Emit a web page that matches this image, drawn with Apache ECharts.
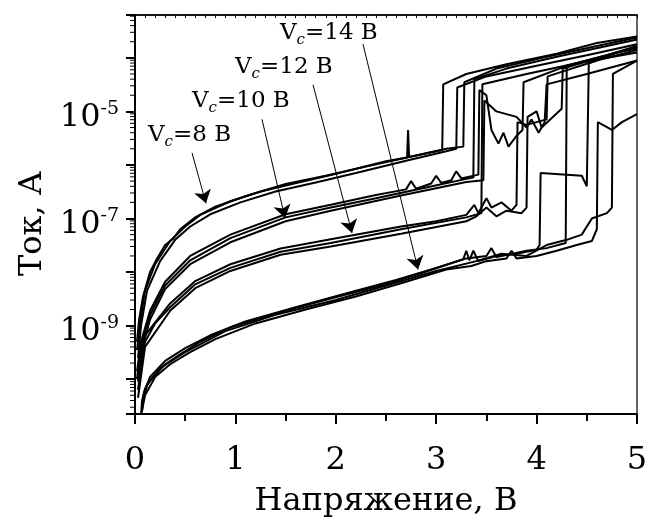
<!DOCTYPE html>
<html>
<head>
<meta charset="utf-8">
<script src="https://cdn.jsdelivr.net/npm/echarts@6/dist/echarts.min.js"></script>
<style>html,body{margin:0;padding:0;background:#fff}#c{width:652px;height:523px}</style>
</head>
<body>
<div id="c"></div>
<script>
// ---- axis settings ----
const xTickLabels = ['0', '1', '2', '3', '4', '5'];
const yLabelExponents = [-9, -7, -5];
const xName = 'Напряжение, В';
const yName = 'Ток, А';
const yMin = Math.pow(10, -10.65);
const yMax = Math.pow(10, -3.2);

// ---- curves: [voltage (V), current (A)] ----
// Vc = 8 V
const vc8a = [[0.02,3.5e-10],[0.05,1.1e-9],[0.1,4.5e-9],[0.2,1.4e-8],[0.35,3.8e-8],[0.5,7.1e-8],[0.65,1.17e-7],[0.95,2.1e-7],[1.25,3.2e-7],[1.65,4.8e-7],[1.95,6.5e-7],[2.5,1.17e-6],[2.71,1.38e-6],[2.72,4.5e-6],[2.73,1.41e-6],[3.0,1.8e-6],[3.06,1.9e-6],[3.07,3.2e-5],[3.3,5.0e-5],[3.7,7.6e-5],[4.2,1.2e-4],[4.6,1.9e-4],[5.0,2.5e-4]];
const vc8b = [[0.03,2.5e-10],[0.06,1.0e-9],[0.12,4.5e-9],[0.25,1.6e-8],[0.4,4.0e-8],[0.55,7.1e-8],[0.75,1.2e-7],[1.05,2.0e-7],[1.4,3.2e-7],[1.8,4.7e-7],[2.2,7.1e-7],[2.7,1.2e-6],[3.1,1.8e-6],[3.2,2.0e-6],[3.21,2.8e-5],[3.5,4.5e-5],[4.0,7.1e-5],[4.5,1.12e-4],[5.0,1.8e-4]];
const vc8c = [[0.02,5.0e-10],[0.04,1.26e-9],[0.08,3.5e-9],[0.15,1.0e-8],[0.22,1.8e-8],[0.3,3.2e-8],[0.38,4.2e-8],[0.45,6.3e-8],[0.6,1.05e-7],[0.8,1.66e-7],[1.1,2.6e-7],[1.5,4.4e-7],[1.9,6.3e-7],[2.3,9.3e-7],[2.8,1.5e-6],[3.1,2.0e-6],[3.27,2.2e-6],[3.28,3.5e-5],[3.6,6.3e-5],[4.1,1.05e-4],[4.6,1.66e-4],[5.0,2.4e-4]];
// Vc = 10 V
const vc10a = [[0.02,1.0e-10],[0.05,3.5e-10],[0.15,1.6e-9],[0.3,5.6e-9],[0.55,1.66e-8],[0.95,4.3e-8],[1.5,1.05e-7],[1.95,1.6e-7],[2.4,2.4e-7],[2.9,3.8e-7],[3.3,5.5e-7],[3.37,5.8e-7],[3.38,4.0e-5],[3.7,6.3e-5],[4.2,1.05e-4],[4.7,1.66e-4],[5.0,2.2e-4]];
const vc10b = [[0.02,1.4e-10],[0.06,5.0e-10],[0.15,1.9e-9],[0.3,6.6e-9],[0.55,2.0e-8],[0.95,5.0e-8],[1.5,1.2e-7],[1.95,1.8e-7],[2.4,2.75e-7],[2.7,3.5e-7],[2.75,5.0e-7],[2.8,3.6e-7],[2.95,4.5e-7],[3.0,6.3e-7],[3.05,4.6e-7],[3.15,5.2e-7],[3.2,7.6e-7],[3.25,5.6e-7],[3.42,6.6e-7],[3.43,2.5e-5],[3.5,2.0e-5],[3.55,4.5e-6],[3.62,2.5e-6],[3.67,4.0e-6],[3.72,2.2e-6],[3.8,3.5e-6],[3.86,4.5e-6],[3.87,3.5e-5],[4.3,7.1e-5],[4.8,1.26e-4],[5.0,1.5e-4]];
const vc10c = [[0.03,9.0e-11],[0.06,3.2e-10],[0.15,1.3e-9],[0.3,4.8e-9],[0.55,1.4e-8],[0.95,3.6e-8],[1.5,8.9e-8],[1.95,1.4e-7],[2.65,2.7e-7],[3.3,4.8e-7],[3.47,5.2e-7],[3.48,1.6e-5],[3.6,1.0e-5],[3.8,7.9e-6],[3.9,5.0e-6],[3.95,7.1e-6],[4.02,4.0e-6],[4.08,6.3e-6],[4.1,3.2e-5],[4.5,5.0e-5],[5.0,8.9e-5]];
// Vc = 12 V
const vc12a = [[0.03,6.3e-11],[0.06,1.8e-10],[0.1,5.0e-10],[0.2,1.1e-9],[0.35,2.2e-9],[0.6,5.9e-9],[0.95,1.2e-8],[1.45,2.4e-8],[1.95,3.5e-8],[2.65,6.3e-8],[3.3,1.05e-7],[3.45,1.26e-7],[3.46,3.2e-5],[3.9,5.0e-5],[4.4,7.9e-5],[5.0,1.26e-4]];
const vc12b = [[0.03,1.0e-10],[0.1,6.6e-10],[0.35,2.6e-9],[0.6,6.8e-9],[0.95,1.4e-8],[1.45,2.75e-8],[1.95,4.1e-8],[2.65,7.1e-8],[3.0,8.9e-8],[3.3,1.17e-7],[3.38,1.8e-7],[3.42,1.26e-7],[3.5,2.4e-7],[3.55,1.6e-7],[3.65,2.0e-7],[3.75,1.4e-7],[3.8,1.8e-7],[3.81,6.3e-6],[3.9,5.6e-6],[4.1,7.1e-6],[4.11,4.5e-5],[4.6,8.9e-5],[5.0,1.4e-4]];
const vc12c = [[0.03,4.5e-11],[0.1,4.0e-10],[0.35,1.9e-9],[0.6,5.0e-9],[0.95,1.05e-8],[1.45,2.1e-8],[1.95,3.0e-8],[2.65,5.2e-8],[3.3,8.9e-8],[3.4,1.1e-7],[3.5,1.6e-7],[3.6,1.1e-7],[3.7,1.4e-7],[3.85,1.26e-7],[3.9,1.6e-7],[3.91,7.9e-6],[4.0,1.0e-5],[4.05,5.0e-6],[4.25,1.12e-5],[4.26,6.3e-5],[5.0,1.6e-4]];
// Vc = 14 V
const vc14a = [[0.06,2.0e-11],[0.07,4.0e-11],[0.1,6.6e-11],[0.15,9.5e-11],[0.3,1.9e-10],[0.45,2.9e-10],[0.65,5.0e-10],[0.95,9.3e-10],[1.45,1.8e-9],[1.95,3.2e-9],[2.45,5.6e-9],[2.85,9.5e-9],[3.27,1.74e-8],[3.3,2.5e-8],[3.33,1.66e-8],[3.37,2.5e-8],[3.42,1.6e-8],[3.6,2.0e-8],[3.8,2.2e-8],[4.0,2.6e-8],[4.03,3.2e-8],[4.04,7.1e-7],[4.45,6.3e-7],[4.5,4.0e-7],[4.52,7.9e-5],[4.8,1.26e-4],[5.0,1.6e-4]];
const vc14b = [[0.07,2.5e-11],[0.09,5.6e-11],[0.15,1.1e-10],[0.3,2.2e-10],[0.5,3.8e-10],[0.75,6.6e-10],[1.1,1.2e-9],[1.6,2.2e-9],[2.1,4.0e-9],[2.6,7.1e-9],[3.0,1.2e-8],[3.3,1.8e-8],[3.5,2.0e-8],[3.55,2.8e-8],[3.6,1.9e-8],[3.9,2.5e-8],[4.1,2.8e-8],[4.29,3.5e-8],[4.3,7.1e-5],[4.7,1.12e-4],[5.0,1.66e-4]];
const vc14c = [[0.06,2.1e-11],[0.1,5.0e-11],[0.2,1.1e-10],[0.35,1.9e-10],[0.55,3.2e-10],[0.8,5.6e-10],[1.2,1.1e-9],[1.7,2.0e-9],[2.2,3.5e-9],[2.7,6.6e-9],[3.1,1.12e-8],[3.35,1.3e-8],[3.5,1.6e-8],[3.7,1.8e-8],[3.75,2.5e-8],[3.8,1.8e-8],[4.0,2.0e-8],[4.2,2.5e-8],[4.4,3.2e-8],[4.55,3.8e-8],[4.6,6.3e-8],[4.61,6.3e-6],[4.75,4.5e-6],[4.85,6.3e-6],[5.0,8.9e-6]];
const vc14d = [[0.07,3.2e-11],[0.12,7.9e-11],[0.25,1.6e-10],[0.5,3.2e-10],[0.9,7.9e-10],[1.4,1.6e-9],[2.0,3.0e-9],[2.5,5.6e-9],[3.0,1.05e-8],[3.4,1.6e-8],[3.65,2.2e-8],[3.9,2.0e-8],[4.1,3.2e-8],[4.3,4.0e-8],[4.45,5.0e-8],[4.55,1.0e-7],[4.7,1.26e-7],[4.75,1.6e-7],[4.76,5.0e-5],[5.0,8.9e-5]];

const curves = [vc8a, vc8b, vc8c, vc10a, vc10b, vc10c, vc12a, vc12b, vc12c, vc14a, vc14b, vc14c, vc14d];

// ---- annotations: label, arrow start, arrow tip (data units) ----
const annotLabels = ['8', '10', '12', '14'];
const arrowFrom = [[0.568, 1.68e-6], [1.265, 7.1e-6], [1.773, 3.15e-5], [2.271, 1.8e-4]];
const arrowTo = [[0.707, 1.92e-7], [1.494, 1.02e-7], [2.161, 5.38e-8], [2.819, 1.12e-8]];
const annotPos = [[148, 135], [192, 101], [235, 67], [280, 33]];

const FONT = 'DejaVu Serif';
const chart = echarts.init(document.getElementById('c'), null, {renderer: 'canvas'});

// log minor tick values (axis furniture)
const yMinor = [];
for (let e = -11; e <= -4; e++) {
  for (let m = 2; m <= 9; m++) {
    const v = m * Math.pow(10, e);
    if (v > yMin && v < yMax) yMinor.push([0, v]);
  }
}

const series = curves.map(c => ({
  type: 'line', data: c, showSymbol: false, symbol: 'none', silent: true,
  lineStyle: {color: '#000', width: 2}, z: 3
}));

series.push({
  type: 'line', data: [], silent: true, z: 4,
  markLine: {
    silent: true, symbol: ['none', 'arrow'], symbolSize: 13,
    label: {show: false},
    lineStyle: {color: '#000', width: 1, type: 'solid'},
    emphasis: {disabled: true},
    data: arrowFrom.map((f, i) => [{coord: f}, {coord: arrowTo[i]}])
  }
});

series.push({
  type: 'custom', data: yMinor, silent: true, clip: false, z: 5,
  renderItem: function (params, api) {
    const p = api.coord([0, api.value(1)]);
    return {type: 'line', shape: {x1: p[0] - 5, y1: p[1], x2: p[0], y2: p[1]}, style: {stroke: '#000', lineWidth: 1}};
  }
});

const option = {
  animation: false,
  backgroundColor: '#fff',
  grid: {left: 135, right: 15, top: 15, bottom: 100, show: true, borderColor: '#333', borderWidth: 1.5, backgroundColor: 'transparent'},
  xAxis: [{
    type: 'value', position: 'bottom', min: 0, max: 5, interval: 1,
    name: xName, nameLocation: 'middle', nameGap: 72,
    nameTextStyle: {fontFamily: FONT, fontSize: 32, color: '#000'},
    axisLine: {show: true, lineStyle: {color: '#000', width: 2}},
    axisTick: {show: true, inside: false, length: 10, lineStyle: {color: '#000', width: 2}},
    minorTick: {show: true, splitNumber: 2, length: 7, lineStyle: {color: '#000', width: 2}},
    axisLabel: {fontFamily: FONT, fontSize: 32, color: '#000', margin: 31,
      formatter: function (v) { const i = Math.round(v); return Math.abs(v - i) < 1e-6 ? xTickLabels[i] : ''; }},
    splitLine: {show: false}
  }, {
    type: 'value', position: 'top', min: 0, max: 5, interval: 0.1,
    axisLine: {show: true, lineStyle: {color: '#000', width: 1.5}},
    axisTick: {show: true, inside: true, length: 3, lineStyle: {color: '#000', width: 1}},
    axisLabel: {show: false}, splitLine: {show: false}
  }],
  yAxis: {
    type: 'log', logBase: 10, min: yMin, max: yMax, splitNumber: 8,
    name: yName, nameLocation: 'middle', nameGap: 86,
    nameTextStyle: {fontFamily: FONT, fontSize: 32, color: '#000', padding: [0, 18, 0, 0]},
    axisLine: {show: true, lineStyle: {color: '#000', width: 2}},
    axisTick: {show: true, inside: false, length: 9, lineStyle: {color: '#000', width: 2}},
    axisLabel: {
      margin: 16, color: '#000', padding: [12, 0, 0, 0],
      formatter: function (v) {
        const e = Math.log10(v); const r = Math.round(e);
        if (Math.abs(e - r) > 1e-6 || yLabelExponents.indexOf(r) < 0) return '';
        return '{b|10}{s|' + r + '}';
      },
      rich: {
        b: {fontFamily: FONT, fontSize: 32, lineHeight: 36, color: '#000'},
        s: {fontFamily: FONT, fontSize: 19, lineHeight: 19, verticalAlign: 'top', color: '#000'}
      }
    },
    splitLine: {show: false}
  },
  graphic: annotLabels.map((lab, i) => ({
    type: 'text', x: annotPos[i][0], y: annotPos[i][1], z: 10, silent: true,
    style: {
      text: '{v|V}{c|c}{v|=' + lab + ' В}', verticalAlign: 'middle', align: 'left',
      rich: {
        v: {fontFamily: FONT, fontSize: 23, lineHeight: 30, fill: '#000'},
        c: {fontFamily: FONT, fontSize: 15, lineHeight: 15, fontStyle: 'italic', verticalAlign: 'bottom', fill: '#000'}
      }
    }
  })),
  series: series
};
chart.setOption(option);
</script>
</body>
</html>
